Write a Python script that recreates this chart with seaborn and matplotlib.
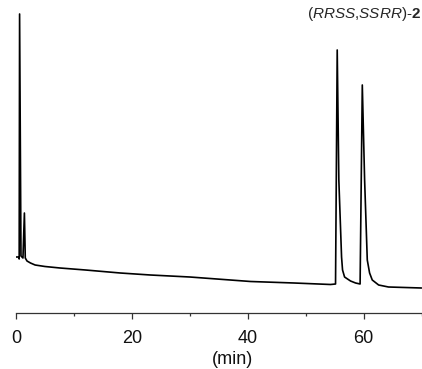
import matplotlib
matplotlib.use("Agg")
import matplotlib.pyplot as plt
import pandas as pd
import seaborn as sns

# retention time (min) and detector signal (arbitrary units)
time = [0, 0.5, 0.55, 0.62, 0.86, 1.2, 1.45, 1.6, 1.9, 2.5, 3.3, 5, 7.6, 12,
        18, 23.2, 30, 40.5, 48, 54.3, 55.16, 55.45, 55.73, 56.2, 56.37, 56.72,
        57.23, 57.75, 58.62, 59.4, 59.78, 60.18, 60.64, 61.04, 61.5, 62.6,
        64.3, 70]
signal = [43, 43, 41, 286, 44, 42, 87, 42, 39, 37, 35, 33.5, 32, 30,
          27, 25, 23, 18.5, 17, 15.5, 16, 250, 120, 43, 30, 23,
          21, 19, 17, 16, 215, 120, 40, 27, 20, 15,
          13, 12]

xticks = [0, 20, 40, 60]
label = r"($\mathit{RRSS{,}SSRR}$)-$\mathbf{2}$"

df = pd.DataFrame({"time": time, "signal": signal})

sns.set_theme(style="ticks")
plt.rcParams["font.family"] = ["Liberation Sans", "DejaVu Sans"]
plt.rcParams["mathtext.fontset"] = "custom"
plt.rcParams["mathtext.rm"] = "Liberation Sans"
plt.rcParams["mathtext.it"] = "Liberation Sans:italic"
plt.rcParams["mathtext.bf"] = "Liberation Sans:bold"

fig = plt.figure(figsize=(4.22, 3.69), dpi=100)
ax = fig.add_axes([16 / 422, (369 - 313) / 369, 405.5 / 422, 313 / 369])

sns.lineplot(data=df, x="time", y="signal", ax=ax, color="black",
             linewidth=1.2, estimator=None, sort=False)

ax.set_xlim(0, 70)
ax.set_ylim(-13, 300)
ax.set_xticks(xticks)
ax.set_xticks(range(0, 71, 10), minor=True)
ax.tick_params(axis="x", which="major", length=4.5, width=0.9, labelsize=13,
               pad=8, color="#333333", labelcolor="#111111")
ax.tick_params(axis="x", which="minor", length=2.5, width=0.9, color="#333333")
ax.set_yticks([])
ax.set_ylabel("")
ax.set_xlabel("(min)", fontsize=13, labelpad=0, color="#111111")
ax.xaxis.set_label_coords(0.533, -0.12)
for s in ["left", "right", "top"]:
    ax.spines[s].set_visible(False)
ax.spines["bottom"].set_linewidth(0.9)
ax.spines["bottom"].set_color("#333333")

fig.text(421 / 422, 1 - 14 / 369, label, ha="right", va="center", fontsize=11)

fig.savefig("out.png", dpi=100)
